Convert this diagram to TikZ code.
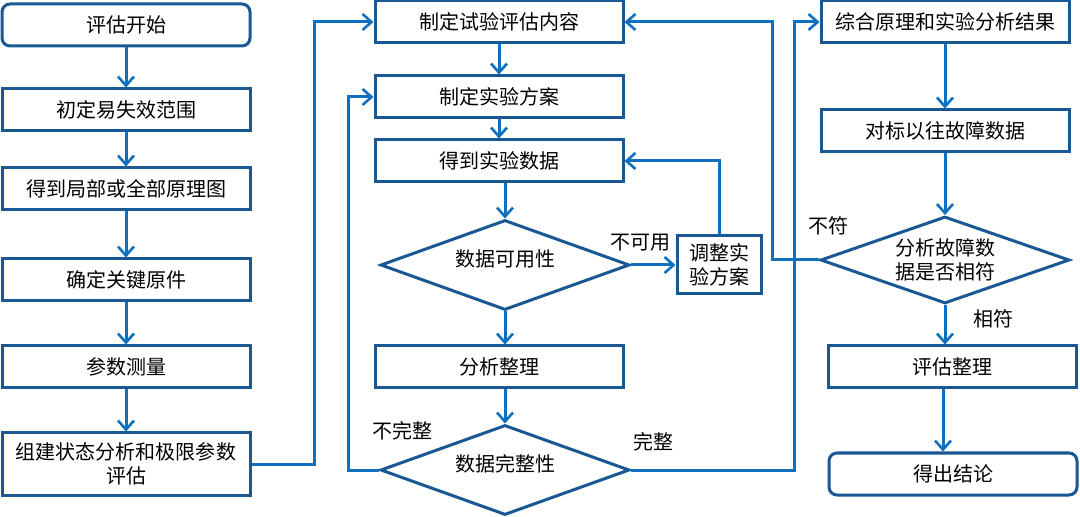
\documentclass[tikz,border=0pt]{standalone}
\usepackage{fontspec}
\setmainfont{Noto Sans CJK SC}
\usetikzlibrary{shapes.geometric,arrows.meta}
\definecolor{boxblue}{RGB}{26,88,148}
\definecolor{lineblue}{RGB}{16,112,192}
\tikzset{
  box/.style = {draw=boxblue,line width=1.5pt,minimum width=124pt,minimum height=21pt,
    inner sep=1pt,align=center,font=\fontsize{10}{12}\selectfont},
  endbox/.style = {box,rounded corners=4pt},
  decide/.style = {draw=boxblue,line width=1.5pt,shape=diamond,aspect=2.77,inner sep=0pt,
    minimum width=124.5pt,minimum height=45pt,align=center,font=\fontsize{10}{12}\selectfont},
  lab/.style = {font=\fontsize{10}{12}\selectfont},
  flow/.style = {draw=lineblue,line width=1.5pt,->}
}
\tikzset{>={Straight Barb[length=4.5pt,width=8pt,line width=1.3pt]}}

\begin{document}
\begin{tikzpicture}[x=0.5pt,y=-0.5pt]
  \useasboundingbox (0,0) rectangle (1080,517);
  % left column
  \node[endbox] (start) at (126,25) {评估开始};
  \node[box] (range) at (126,110) {初定易失效范围};
  \node[box] (schem) at (126,189) {得到局部或全部原理图};
  \node[box] (parts) at (126,280) {确定关键原件};
  \node[box] (meas) at (126,367) {参数测量};
  \node[box,minimum height=31pt] (build) at (126,464) {组建状态分析和极限参数\\评估};
  % middle column
  \node[box] (content) at (499,22) {制定试验评估内容};
  \node[box] (plan) at (499,97) {制定实验方案};
  \node[box] (data) at (499,161) {得到实验数据};
  \node[decide] (usable) at (505,265) {};
  \node[lab] (usabletext) at (505,259) {数据可用性};
  \node[box,minimum width=42pt,minimum height=29pt] (adjust) at (719,265) {调整实\\验方案};
  \node[box] (sort) at (499,367) {分析整理};
  \node[decide] (complete) at (505,470) {};
  \node[lab] (completetext) at (505,464) {数据完整性};
  % right column
  \node[box] (merge) at (945,22) {综合原理和实验分析结果};
  \node[box] (history) at (945,131) {对标以往故障数据};
  \node[decide,minimum height=43.5pt] (match) at (945,260) {分析故障数\\据是否相符};
  \node[box] (review) at (952,367) {评估整理};
  \node[endbox] (result) at (953,474) {得出结论};

  \draw[flow] (start) -- (range);
  \draw[flow] (range) -- (schem);
  \draw[flow] (schem) -- (parts);
  \draw[flow] (parts) -- (meas);
  \draw[flow] (meas) -- (build);
  \draw[flow] (build.east) -- ++(63,0) |- (content.west);

  \draw[flow] (content) -- (plan);
  \draw[flow] (plan) -- (data);
  \draw[flow] (usable.north |- data.south) -- (usable.north);
  \draw[flow] (usable.east) -- (adjust.west);
  \draw[flow] (adjust.north) |- (data.east);
  \draw[flow] (usable.south) -- (usable.south |- sort.north);
  \draw[flow] (complete.north |- sort.south) -- (complete.north);
  \draw[flow] (complete.west) -- ++(-31,0) |- (plan.west);
  \draw[flow] (complete.east) -- ++(163,0) |- (merge.west);

  \draw[flow] (merge) -- (history);
  \draw[flow] (history) -- (match);
  \draw[flow] (match.west) -- ++(-47,0) |- (content.east);
  \draw[flow] (match.south) -- (match.south |- review.north);
  \draw[flow] (review.south -| 943,0) -- (result.north -| 943,0);

  \node[lab] (nouse) at (640,243) {不可用};
  \node[lab] (nofull) at (402,431) {不完整};
  \node[lab] (full) at (653,442) {完整};
  \node[lab] (nomatch) at (828,226) {不符};
  \node[lab] (ismatch) at (993,319) {相符};
\end{tikzpicture}
\end{document}
